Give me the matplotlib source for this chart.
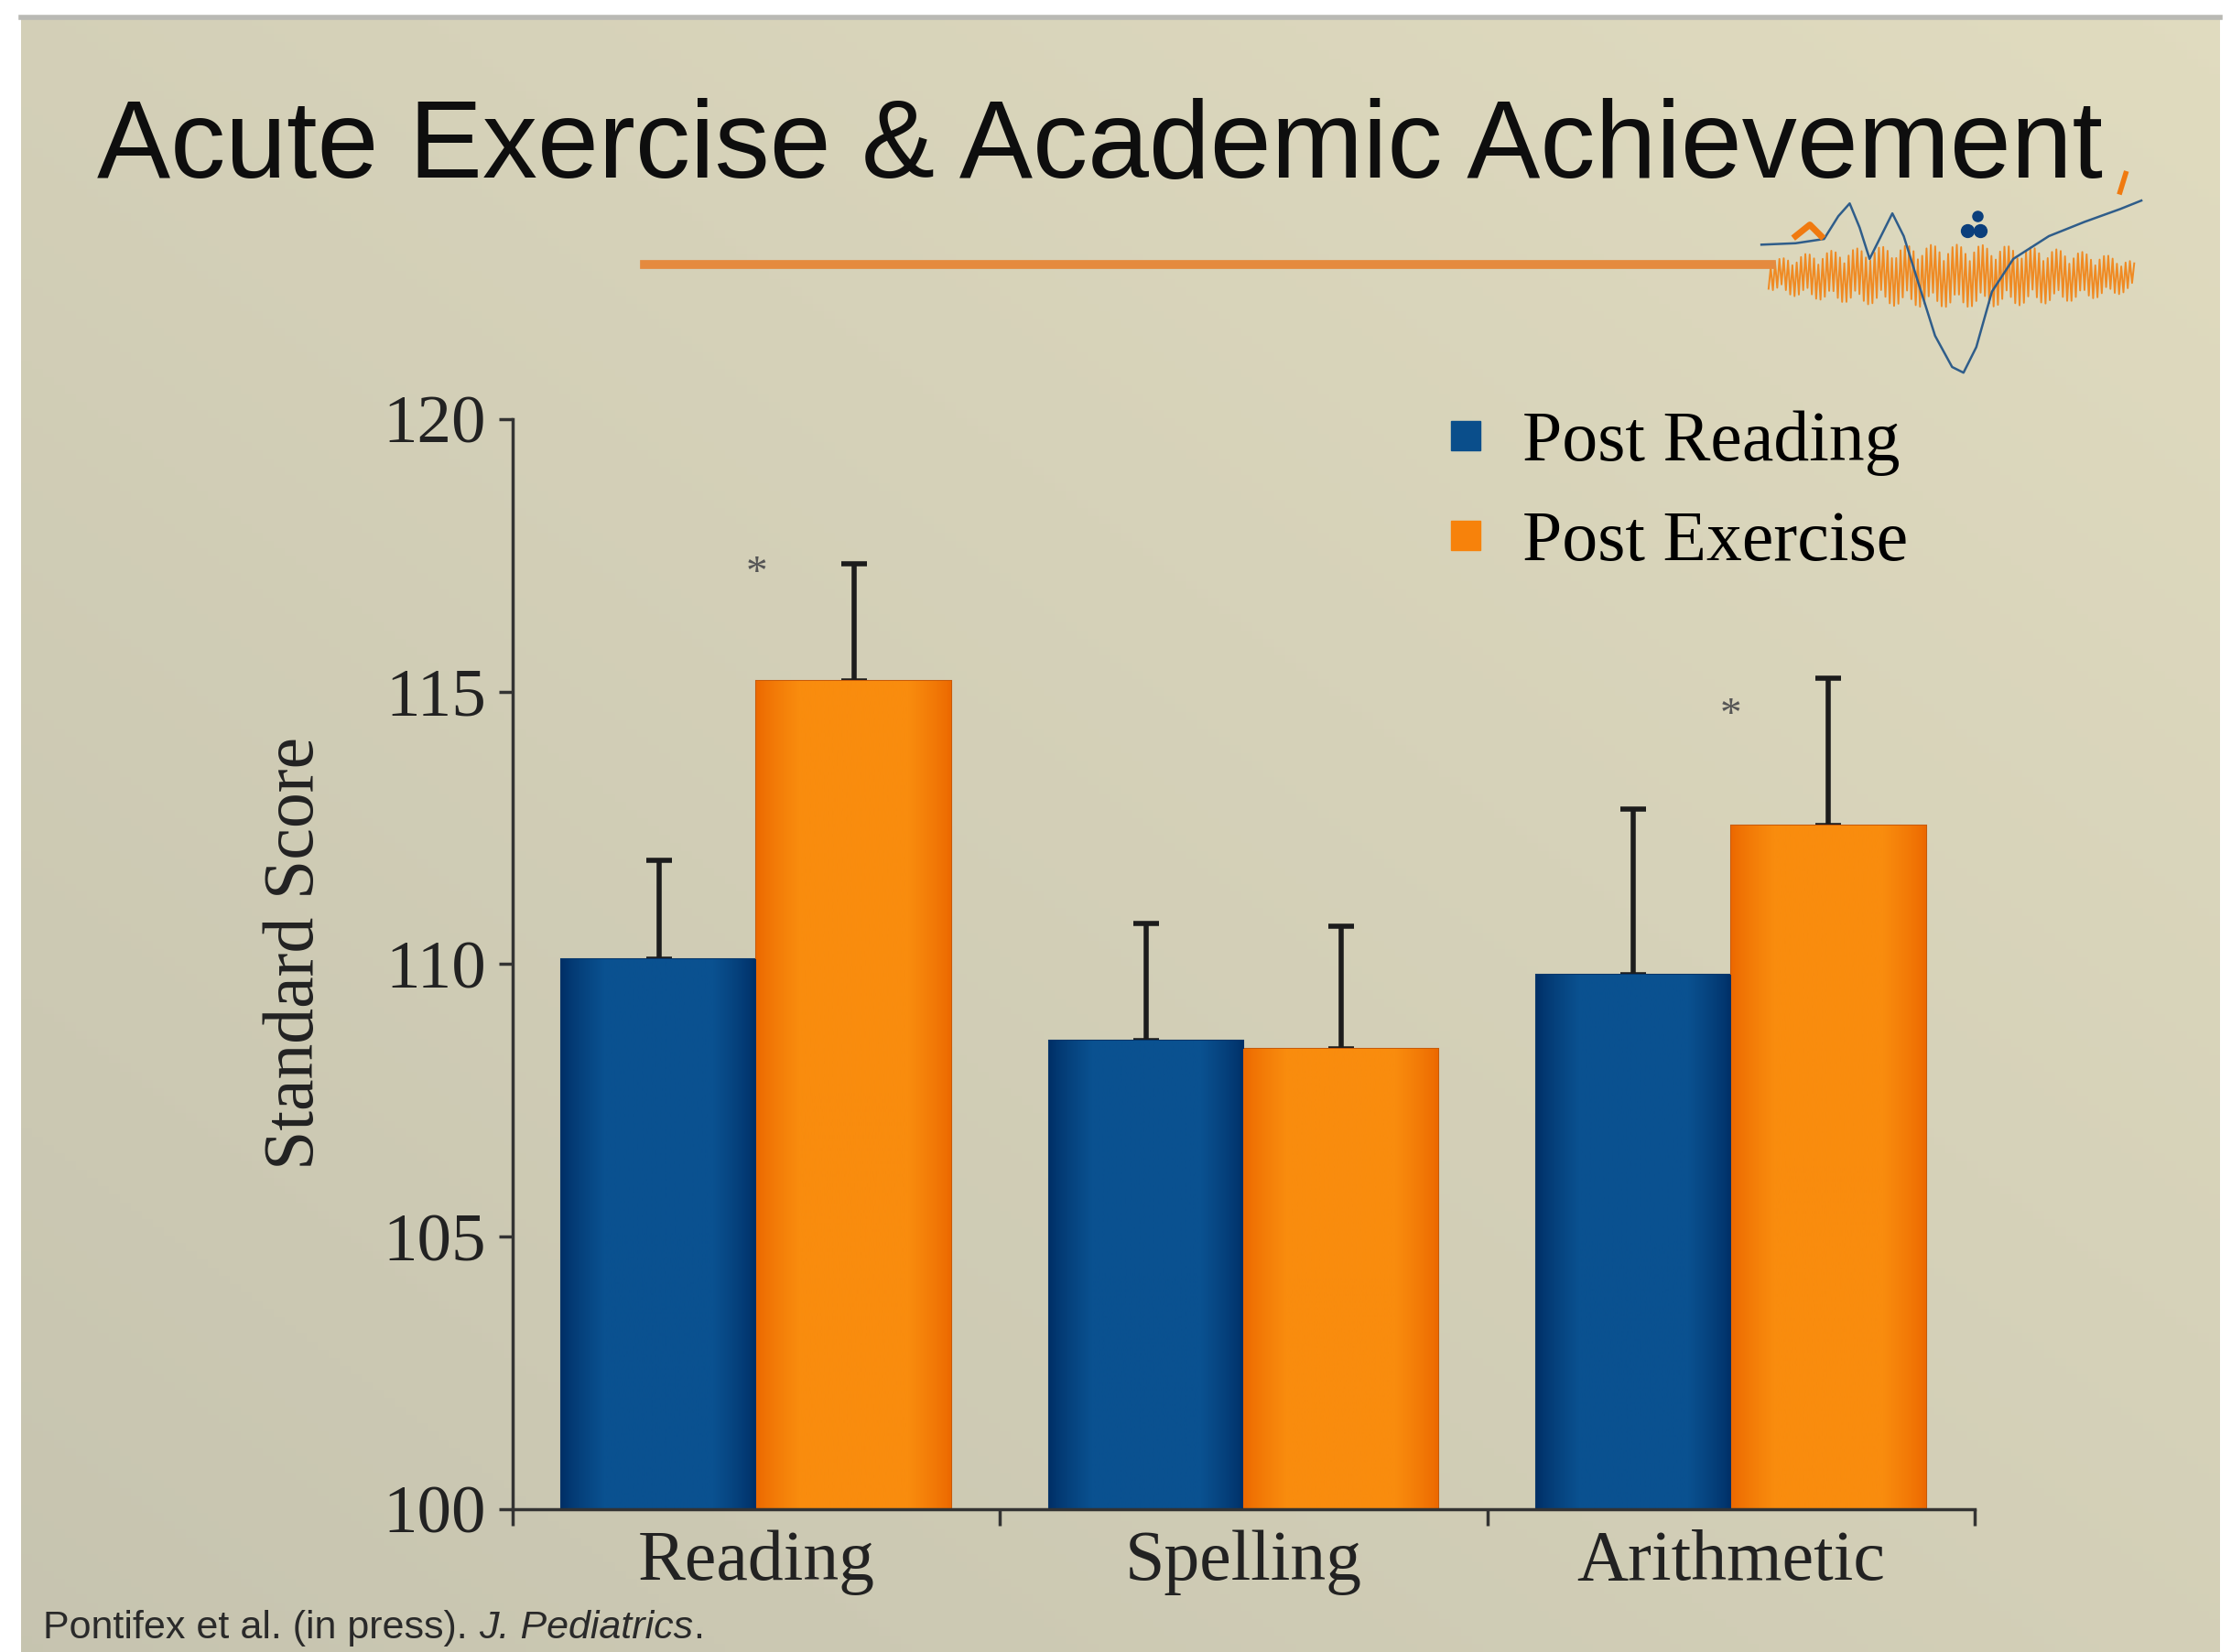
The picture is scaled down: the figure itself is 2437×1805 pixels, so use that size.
import numpy as np
import matplotlib.pyplot as plt
from matplotlib.lines import Line2D
from matplotlib.colors import LinearSegmentedColormap

# data
categories = ['Reading', 'Spelling', 'Arithmetic']
post_reading = [110.1, 108.6, 109.8]
post_reading_err = [1.8, 2.15, 3.05]
post_exercise = [115.2, 108.45, 112.55]
post_exercise_err = [2.15, 2.25, 2.7]
star_groups = [0, 2]
star_y = [117.15, 114.55]
yticks = [100, 105, 110, 115, 120]

blue = '#0A4E8B'
orange = '#F7820B'
serif = 'Liberation Serif'
sans = 'Liberation Sans'

W, H = 2437, 1805
fig = plt.figure(figsize=(W / 100, H / 100), dpi=100)
fig.patch.set_facecolor('white')

# slide background (beige gradient)
bg = fig.add_axes([23 / W, 0, (2425 - 23) / W, 1 - 19 / H])
gx, gy = np.meshgrid(np.linspace(0, 1, 200), np.linspace(0, 1, 200))
g = 0.5 * gx + 0.5 * (1 - gy)
c0 = np.array([0.78, 0.77, 0.69])
c1 = np.array([0.88, 0.86, 0.75])
img = c0[None, None, :] * (1 - g[..., None]) + c1[None, None, :] * g[..., None]
bg.imshow(img, extent=[0, 1, 0, 1], aspect='auto', origin='upper')
bg.axis('off')
fig.add_artist(Line2D([23 / W, 2425 / W], [1 - 19 / H] * 2, color='#b9b9b4', lw=4))

# title and orange rule
fig.text(106 / W, 1 - 194 / H, 'Acute Exercise & Academic Achievement',
         fontsize=86.5, family=sans, va='baseline', ha='left', color='#0e0e0e')
fig.add_artist(Line2D([704 / W, 1935 / W], [1 - 289 / H] * 2, color='#E58A3E', lw=7))

# logo (decoration), coords in shrunk-pixel units
lg = fig.add_axes([1235 * 1.5542 / W, 1 - 268 * 1.5542 / H, 275 * 1.5542 / W, 160 * 1.5542 / H])
lg.set_xlim(1235, 1510)
lg.set_ylim(268, 108)
lg.axis('off')
nx = np.linspace(1243, 1500, 170)
k = np.arange(len(nx))
env = 9 + 13 * np.sin(np.pi * (nx - 1243) / 257) ** 0.6
ny = 194 + env * np.where(k % 2 == 0, 1, -1) * (0.45 + 0.55 * np.abs(np.cos(k * 1.3)))
lg.plot(nx, ny, color='#F08A22', lw=1.4)
bx = [1238, 1262, 1282, 1292, 1300, 1307, 1314, 1322, 1330, 1338, 1348, 1360, 1372, 1380,
      1389, 1400, 1415, 1440, 1465, 1490, 1505]
by = [172, 171, 168, 152, 143, 160, 182, 166, 150, 166, 198, 236, 258, 262,
      244, 205, 182, 166, 156, 147, 141]
lg.plot(bx, by, color='#2F5D8A', lw=1.8)
lg.plot([1262, 1272, 1280], [166, 158, 166], color='#F07A10', lw=5)
lg.plot([1383, 1392], [162, 162], 'o', color='#0B3F7C', ms=10)
lg.plot([1390], [152], 'o', color='#0B3F7C', ms=8)
lg.plot([1490, 1494], [135, 122], color='#F07A10', lw=4)

# main chart
ax = fig.add_axes([560 / W, 1 - 1649 / H, (2157 - 560) / W, (1649 - 458) / H])
ax.patch.set_alpha(0)
x = np.arange(len(categories))
w = 0.4
base = 100
bars_r = ax.bar(x - w / 2, np.array(post_reading) - base, w, bottom=base, color=blue,
                edgecolor='#06366a', linewidth=1.5, label='Post Reading', zorder=2)
bars_e = ax.bar(x + w / 2, np.array(post_exercise) - base, w, bottom=base, color=orange,
                edgecolor='#c85a08', linewidth=1.5, label='Post Exercise', zorder=2)

# soft shading across each bar like the original slide
t = np.linspace(0, 1, 256)
prof = np.clip(np.minimum(t, 1 - t) / 0.22, 0, 1) ** 0.8
prof = prof[None, :]
cm_b = LinearSegmentedColormap.from_list('b', ['#002f66', '#0A5190'])
cm_o = LinearSegmentedColormap.from_list('o', ['#EC6800', '#F98C0E'])
for bars, cm in [(bars_r, cm_b), (bars_e, cm_o)]:
    for r in bars:
        x0, y0, bw, bh = r.get_x(), r.get_y(), r.get_width(), r.get_height()
        im = ax.imshow(prof, extent=[x0, x0 + bw, y0, y0 + bh], cmap=cm, vmin=0, vmax=1,
                       aspect='auto', zorder=2.1, interpolation='bilinear')
        im.set_clip_path(r)

zeros = np.zeros(len(categories))
ax.errorbar(x - w / 2, post_reading, yerr=[zeros, post_reading_err], fmt='none',
            ecolor='#1c1c1c', elinewidth=4, capsize=10, capthick=4, zorder=1)
ax.errorbar(x + w / 2, post_exercise, yerr=[zeros, post_exercise_err], fmt='none',
            ecolor='#1c1c1c', elinewidth=4, capsize=10, capthick=4, zorder=1)
for gi, sy in zip(star_groups, star_y):
    ax.text(x[gi], sy, '*', ha='center', va='center', fontsize=34, family=serif, color='#555555')

ax.set_xlim(-0.5, len(categories) - 0.5)
ax.set_ylim(100, 120)
ax.set_yticks(yticks)
ax.set_yticklabels([str(t) for t in yticks], family=serif, fontsize=54, color='#222222')
ax.set_xticks(np.arange(len(categories) + 1) - 0.5)
ax.set_xticklabels([])
ax.set_xticks(x, minor=True)
ax.set_xticklabels(categories, minor=True, family=serif, fontsize=56, color='#222222')
ax.tick_params(axis='y', direction='out', length=11, width=2.5, pad=10, color='#333333')
ax.tick_params(axis='x', which='major', direction='out', length=13, width=2.5, color='#333333')
ax.tick_params(axis='x', which='minor', length=0, pad=16)
for s in ['top', 'right']:
    ax.spines[s].set_visible(False)
for s in ['left', 'bottom']:
    ax.spines[s].set_linewidth(2.5)
    ax.spines[s].set_color('#333333')
ax.set_ylabel('Standard Score', family=serif, fontsize=56, color='#222222')
ax.yaxis.set_label_coords(-0.126, 0.51)

handles = [Line2D([], [], marker='s', ls='', color=blue, markersize=23),
           Line2D([], [], marker='s', ls='', color=orange, markersize=23)]
ax.legend(handles, ['Post Reading', 'Post Exercise'], frameon=False, loc='upper left',
          bbox_to_anchor=(1523 / W, 1 - 410 / H), bbox_transform=fig.transFigure,
          prop={'family': serif, 'size': 56}, handletextpad=0.3, labelspacing=0.48,
          handlelength=1.0, borderpad=0)

# citation, italic journal name chained after the first part
base_y = 1 - 1790 / H
t1 = fig.text(47 / W, base_y, 'Pontifex et al. (in press). ', fontsize=31, family=sans,
              va='baseline', ha='left', color='#2a2a2a')
fig.canvas.draw()
x1 = t1.get_window_extent().x1 / W
t2 = fig.text(x1, base_y, 'J. Pediatrics', fontsize=31, family=sans, style='italic',
              va='baseline', ha='left', color='#2a2a2a')
fig.canvas.draw()
x2 = t2.get_window_extent().x1 / W
fig.text(x2, base_y, '.', fontsize=31, family=sans, va='baseline', ha='left', color='#2a2a2a')

fig.savefig('out.png', dpi=100)
